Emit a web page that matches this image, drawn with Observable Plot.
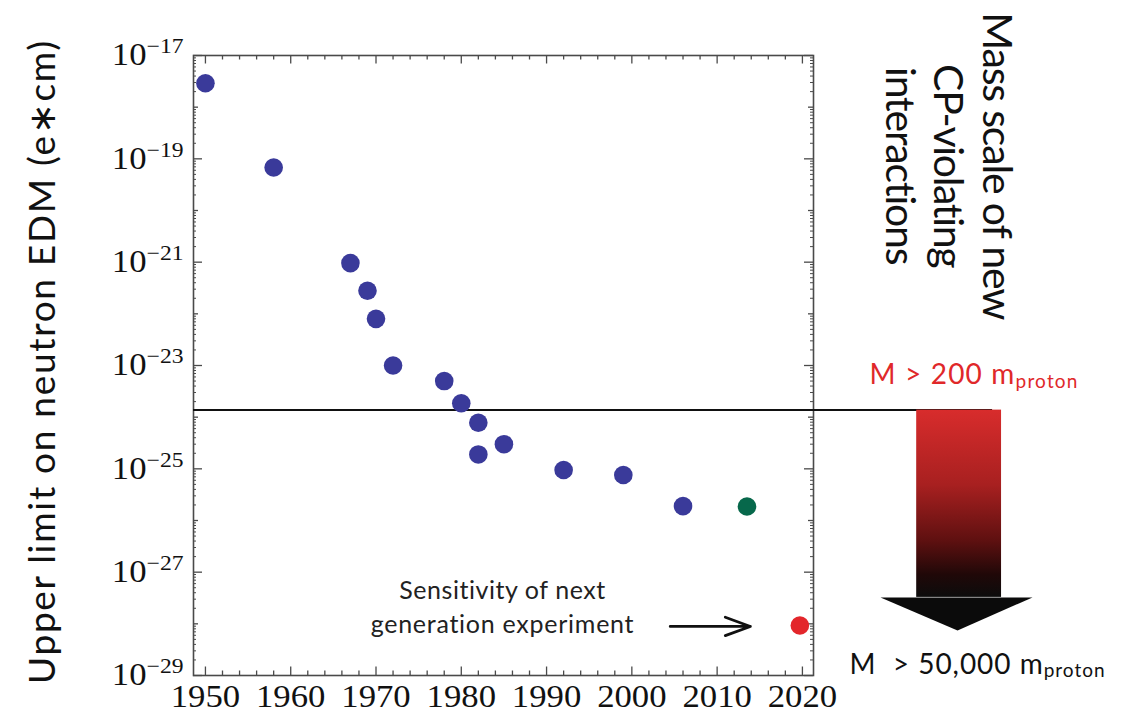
<!DOCTYPE html>
<html><head><meta charset="utf-8">
<script src="https://cdn.jsdelivr.net/npm/d3@7"></script>
<script src="https://cdn.jsdelivr.net/npm/@observablehq/plot@0.6"></script>
<style>html,body{margin:0;padding:0;background:#fff}#chart svg{display:block}</style>
</head><body><div id="chart"></div>
<script>
// ---- data ----
const years  = [1950, 1958, 1967, 1969, 1970, 1972, 1978, 1980, 1982, 1982, 1985, 1992, 1999, 2006];
const limits = [2.9e-18, 6.8e-20, 9.6e-22, 2.8e-22, 8.0e-23, 1.0e-23, 5.0e-24, 1.86e-24, 7.8e-25, 1.9e-25, 3.0e-25, 9.5e-26, 7.6e-26, 1.9e-26];
const currentYear = [2013.5];
const currentLimit = [1.87e-26];
const nextYear = [2019.7];
const nextLimit = [9.3e-29];
const xTickLabels = [1950, 1960, 1970, 1980, 1990, 2000, 2010, 2020];
const yTickExponents = [-17, -19, -21, -23, -25, -27, -29];
const thresholdLimit = [1.37e-24];          // M > 200 m_proton line
const sensitivityArrow = {x1: 2004.5, x2: 2013.9, y: 8.9e-29};
const massArrowBody = {x1: 2033.4, x2: 2043.35, yTop: 1.37e-24, yBottom: 3.25e-28};
const massArrowHeadX = [2029.16, 2046.98, 2038.19, 2029.16];
const massArrowHeadY = [3.25e-28, 3.25e-28, 7.45e-29, 3.25e-28];
const ruleX = [1948.6, 2042.3];
const labelTop = {text: "M > 200 m_proton", x: 2027.87, y: 6.55e-24};
const labelBottom = {text: "M  > 50,000 m_proton", x: 2025.53, y: 1.63e-29};
const sensitivityText = {text: "Sensitivity of next\ngeneration experiment", x: 1984.83, y: 2.28e-28};
const massScaleText = {text: "Mass scale of new\nCP-violating\ninteractions", x: 2037.3, y: 7.36e-20};
const yTitle = "Upper limit on neutron EDM (e\u2217cm)";

// ---- layout ----
const W = 1130, H = 712, ML = 193, MR = 317, MT = 55, MB = 37;
const innerW = W - ML - MR, innerH = H - MT - MB;

const historical = years.map((y, i) => ({year: y, limit: limits[i]}));
const current = currentYear.map((y, i) => ({year: y, limit: currentLimit[i]}));
const next = nextYear.map((y, i) => ({year: y, limit: nextLimit[i]}));
const xMinor = d3.range(1950, 2021, 2).filter(d => d % 10 !== 0);
const yMajor = yTickExponents.map(e => Math.pow(10, e));
const yMid = d3.range(-28, -17, 2).map(e => Math.pow(10, e));
const yMinor = [];
for (let e = -29; e < -17; e++) for (let m = 2; m <= 9; m++) yMinor.push(m * Math.pow(10, e));
const head = massArrowHeadX.map((x, i) => ({x, y: massArrowHeadY[i]}));

const axisColor = "#4a4a4a";
const tickW = 1.3;
const sans = "Lato, 'Open Sans', sans-serif";

const chart = Plot.plot({
  width: W, height: H,
  marginLeft: ML, marginRight: MR, marginTop: MT, marginBottom: MB,
  style: {fontFamily: "'Liberation Serif', serif", fontSize: "31px", color: "#111", background: "#fff", overflow: "visible"},
  x: {domain: [1948.6, 2021.3], ticks: xTickLabels, tickSize: 0, tickPadding: 9, tickFormat: d => String(d), label: null},
  y: {type: "log", domain: [1e-29, 1e-17], ticks: yMajor, tickSize: 0, tickPadding: 10,
      tickFormat: d => { const e = Math.round(Math.log10(d)); return "10^" + (e < 0 ? "\u2212" + (-e) : e); }, label: null},
  marks: [
    Plot.tickX(xMinor, {x: d => d, insetTop: innerH - 4.5, stroke: axisColor, strokeWidth: tickW}),
    Plot.tickX(xTickLabels, {x: d => d, insetTop: innerH - 8.5, stroke: axisColor, strokeWidth: tickW}),
    Plot.tickX(xMinor, {x: d => d, insetBottom: innerH - 4.5, stroke: axisColor, strokeWidth: tickW}),
    Plot.tickX(xTickLabels, {x: d => d, insetBottom: innerH - 8.5, stroke: axisColor, strokeWidth: tickW}),
    Plot.tickY(yMinor, {y: d => d, insetRight: innerW - 3, stroke: axisColor, strokeWidth: 1}),
    Plot.tickY(yMid, {y: d => d, insetRight: innerW - 5, stroke: axisColor, strokeWidth: tickW}),
    Plot.tickY(yMajor, {y: d => d, insetRight: innerW - 9, stroke: axisColor, strokeWidth: tickW}),
    Plot.tickY(yMinor, {y: d => d, insetLeft: innerW - 3, stroke: axisColor, strokeWidth: 1}),
    Plot.tickY(yMid, {y: d => d, insetLeft: innerW - 5, stroke: axisColor, strokeWidth: tickW}),
    Plot.tickY(yMajor, {y: d => d, insetLeft: innerW - 9, stroke: axisColor, strokeWidth: tickW}),
    Plot.frame({stroke: axisColor, strokeWidth: 1.6}),
    Plot.ruleY(thresholdLimit.map(v => ({y: v, x1: ruleX[0], x2: ruleX[1]})), {y: "y", x1: "x1", x2: "x2", stroke: "#111", strokeWidth: 2}),
    Plot.rect([massArrowBody], {x1: "x1", x2: "x2", y1: "yTop", y2: "yBottom", fill: "url(#massGrad)"}),
    Plot.line(head, {x: "x", y: "y", fill: "#0b0b0b", stroke: "none"}),
    Plot.dot(historical, {x: "year", y: "limit", r: 9.3, fill: "#3a3a9a"}),
    Plot.dot(current, {x: "year", y: "limit", r: 9.3, fill: "#07684b"}),
    Plot.dot(next, {x: "year", y: "limit", r: 9.3, fill: "#e3262b"}),
    Plot.arrow([sensitivityArrow], {x1: "x1", x2: "x2", y1: "y", y2: "y", stroke: "#111", strokeWidth: 2.8, headLength: 15, headAngle: 40}),
    Plot.text([sensitivityText], {x: "x", y: "y", text: "text", fontFamily: sans, fontSize: 25, lineHeight: 1.36, fill: "#222", textAnchor: "middle", lineAnchor: "middle"}),
    Plot.text([labelTop], {x: "x", y: "y", text: "text", fontFamily: sans, fontSize: 28, fill: "#e0282a", textAnchor: "start", lineAnchor: "middle"}),
    Plot.text([labelBottom], {x: "x", y: "y", text: "text", fontFamily: sans, fontSize: 28, fill: "#111", textAnchor: "start", lineAnchor: "middle"}),
    Plot.text([massScaleText], {x: "x", y: "y", text: "text", fontFamily: sans, fontSize: 41, lineHeight: 1.18, rotate: 90, fill: "#111", textAnchor: "middle", lineAnchor: "middle"}),
    Plot.text([yTitle], {text: d => d, frameAnchor: "left", dx: -150, dy: -4, rotate: -90, fontFamily: sans, fontSize: 37, fill: "#111", textAnchor: "middle", lineAnchor: "middle"})
  ]
});

const svg = d3.select(chart);
const defs = svg.insert("defs", ":first-child");
const grad = defs.append("linearGradient").attr("id", "massGrad").attr("x1", 0).attr("y1", 0).attr("x2", 0).attr("y2", 1);
[[0, "#d82c2c"], [0.4, "#a82020"], [0.7, "#5e1010"], [0.88, "#200808"], [1, "#0c0c0c"]].forEach(([o, c]) =>
  grad.append("stop").attr("offset", o).attr("stop-color", c));

// superscripts / subscripts as real tspans; serif tick labels slightly wide
svg.selectAll("text").each(function () {
  if (this.querySelector("tspan")) return;
  const t = this.textContent;
  const sel = d3.select(this);
  if (t.includes("^")) {
    const [base, sup] = t.split("^");
    this.textContent = base;
    sel.append("tspan").attr("dy", "-0.58em").attr("font-size", "0.68em").text(sup);
    sel.attr("font-size", "31px").attr("font-family", "'Liberation Serif', serif");
    sel.attr("transform", (sel.attr("transform") || "") + " scale(1.12,1)");
  } else if (t.includes("_")) {
    const [base, sub] = t.split("_");
    this.textContent = base;
    sel.append("tspan").attr("dy", "0.19em").attr("font-size", "0.68em").text(sub);
  } else if (/^\d{4}$/.test(t)) {
    sel.attr("font-size", "31px").attr("font-family", "'Liberation Serif', serif");
    sel.attr("transform", (sel.attr("transform") || "") + " scale(1.12,1)");
  }
});

document.getElementById("chart").appendChild(chart);

// fit annotation text lengths to the reference with letter spacing
const targets = new Map([
  [yTitle, 645],
  ["M > 200 mproton", 209],
  ["M  > 50,000 mproton", 256],
  ["Sensitivity of next", 207],
  ["generation experiment", 264],
  ["Mass scale of new", 307],
  ["CP-violating", 204],
  ["interactions", 198]
]);
svg.selectAll("text, tspan").each(function () {
  const t = this.textContent;
  if (!targets.has(t)) return;
  if (this.tagName === "text" && this.querySelector("tspan") && !t.includes("proton")) return;
  const len = this.getComputedTextLength();
  const ls = (targets.get(t) - len) / t.length;
  this.style.letterSpacing = ls.toFixed(2) + "px";
});
</script>
</body></html>
